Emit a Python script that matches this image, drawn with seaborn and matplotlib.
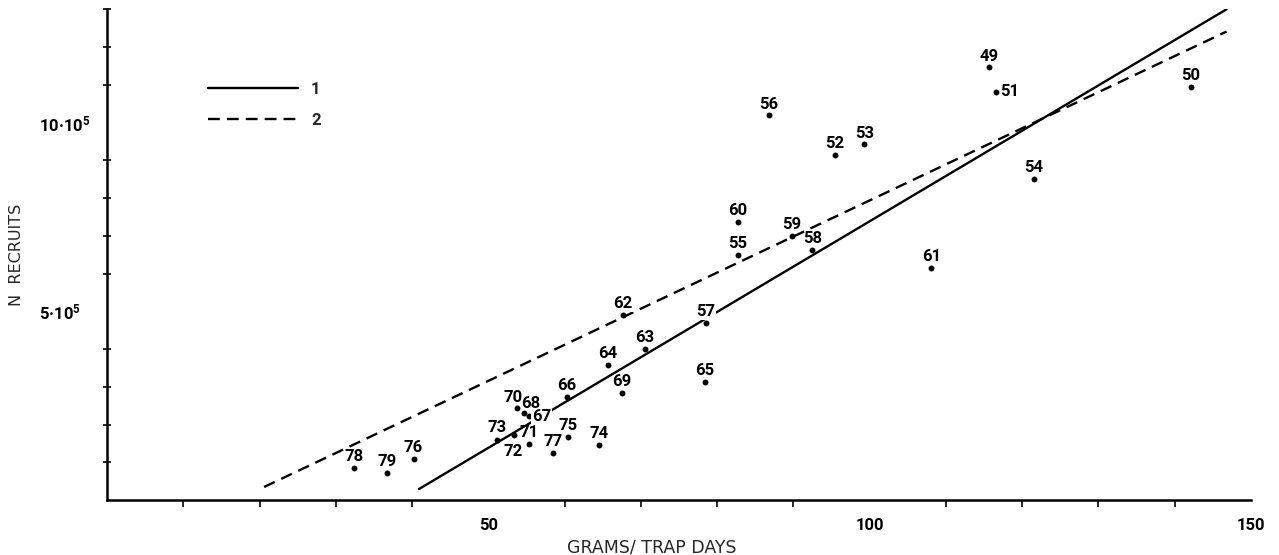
import matplotlib
matplotlib.use("Agg")
import matplotlib.pyplot as plt
from matplotlib import font_manager
from matplotlib.lines import Line2D
import seaborn as sns
import pandas as pd
import numpy as np

# ---------------- data ----------------
labels = ['49', '50', '51', '52', '53', '54', '55', '56', '57', '58', '59', '60',
          '61', '62', '63', '64', '65', '66', '67', '68', '69', '70', '71', '72',
          '73', '74', '75', '76', '77', '78', '79']
grams = [115.7, 142.1, 116.6, 95.4, 99.3, 121.5, 82.7, 86.8, 78.5, 92.5, 89.8, 82.7,
         108.1, 67.6, 70.5, 65.7, 78.4, 60.3, 55.3, 54.7, 67.5, 53.7, 55.3, 53.3,
         51.2, 64.5, 60.4, 40.2, 58.5, 32.4, 36.7]
recruits = [11.46, 10.95, 10.82, 9.15, 9.42, 8.51, 6.50, 10.19, 4.69, 6.63, 7.00, 7.37,
            6.15, 4.91, 4.00, 3.58, 3.13, 2.73, 2.23, 2.31, 2.84, 2.44, 1.49, 1.72,
            1.59, 1.46, 1.67, 1.09, 1.25, 0.85, 0.72]  # x 10^5
line1_x = [40.9, 146.8]
line1_y = [0.29, 13.0]
line2_x = [20.6, 146.8]
line2_y = [0.345, 12.41]
legend_labels = ['1', '2']
x_major = [50, 100, 150]
x_minor = [10, 20, 30, 40, 60, 70, 80, 90, 110, 120, 130, 140]
y_major = [5, 10]
y_major_labels = ['5·10$^5$', '10·10$^5$']
y_minor = [1, 2, 3, 4, 6, 7, 8, 9, 11, 12, 13]
xlabel = 'GRAMS/ TRAP DAYS'
ylabel = 'N  RECRUITS'

# ---------------- style ----------------
sns.set_theme(style="white")
avail = {f.name for f in font_manager.fontManager.ttflist}
narrow = next((f for f in ['Liberation Sans Narrow', 'Roboto', 'DejaVu Sans']
               if f in avail), 'DejaVu Sans')
plt.rcParams['font.family'] = [narrow, 'DejaVu Sans']
plt.rcParams['mathtext.fontset'] = 'custom'
plt.rcParams['mathtext.rm'] = narrow + ':bold'
plt.rcParams['mathtext.it'] = narrow + ':bold'
plt.rcParams['mathtext.default'] = 'rm'

fig = plt.figure(figsize=(12.79, 5.55), dpi=100)
ax = fig.add_axes([107 / 1279, 55 / 555, (1251 - 107) / 1279, 490.75 / 555])

df = pd.DataFrame({'grams': grams, 'recruits': recruits, 'label': labels})
sns.scatterplot(data=df, x='grams', y='recruits', ax=ax, color='black', s=18,
                edgecolor='black', linewidth=0, zorder=3, legend=False)
sns.lineplot(x=line1_x, y=line1_y, ax=ax, color='black', lw=1.7, zorder=2)
sns.lineplot(x=line2_x, y=line2_y, ax=ax, color='black', lw=1.7, zorder=2)
ax.lines[-1].set_dashes((5, 3))

# point labels
offsets = {'72': (0, -16), '51': (13, 0), '67': (13, -1), '70': (-3, 10),
           '68': (7, 9), '73': (0, 12)}
gap_labels = {'57', '62', '67'}
for lab, gx, ry in zip(labels, grams, recruits):
    dx, dy = offsets.get(lab, (0, 11))
    kw = {}
    if lab in gap_labels:
        kw['bbox'] = dict(facecolor='white', edgecolor='none', pad=0.5)
    ax.annotate(lab, (gx, ry), xytext=(dx * 0.72, dy * 0.72), textcoords='offset points',
                ha='center', va='center', fontsize=12, fontweight='bold',
                color='black', zorder=4, **kw)

# axes
ax.set_xlim(0, 150)
ax.set_ylim(0, 13)
for s in ['top', 'right']:
    ax.spines[s].set_visible(False)
for s in ['left', 'bottom']:
    ax.spines[s].set_linewidth(1.8)
    ax.spines[s].set_color('black')
ax.set_xticks(x_major)
ax.set_xticklabels([str(v) for v in x_major], fontsize=12, fontweight='bold')
ax.set_xticks(x_minor, minor=True)
ax.set_yticks(y_major)
ax.set_yticklabels(y_major_labels, fontsize=12, fontweight='bold')
ax.set_yticks(y_minor, minor=True)
ax.tick_params(axis='both', which='major', direction='out', length=10, width=1.6,
               colors='black')
ax.tick_params(axis='x', which='major', pad=3)
ax.tick_params(axis='y', which='major', pad=39)
for t in ax.get_yticklabels():
    t.set_ha('left')
ax.tick_params(axis='x', which='minor', direction='out', length=5, width=1.4,
               bottom=True)
ax.tick_params(axis='y', which='minor', direction='inout', length=6, width=1.4,
               left=True)
ax.set_xlabel(xlabel, fontsize=12.5, family='DejaVu Sans')
ax.xaxis.set_label_coords(0.476, -0.078)
ax.set_ylabel(ylabel, fontsize=11.5, family='DejaVu Sans')
ax.yaxis.set_label_coords(-0.0726, 0.5)

handles = [Line2D([], [], color='black', lw=1.7),
           Line2D([], [], color='black', lw=1.7, dashes=(5, 3))]
leg = ax.legend(handles, legend_labels, loc='upper left',
                bbox_to_anchor=(0.088, 0.852), frameon=False,
                prop={'size': 12, 'weight': 'bold'},
                handlelength=5.4, handletextpad=0.8, labelspacing=0.95, borderpad=0,
                borderaxespad=0)

fig.savefig('out.png', dpi=100, facecolor='white')
